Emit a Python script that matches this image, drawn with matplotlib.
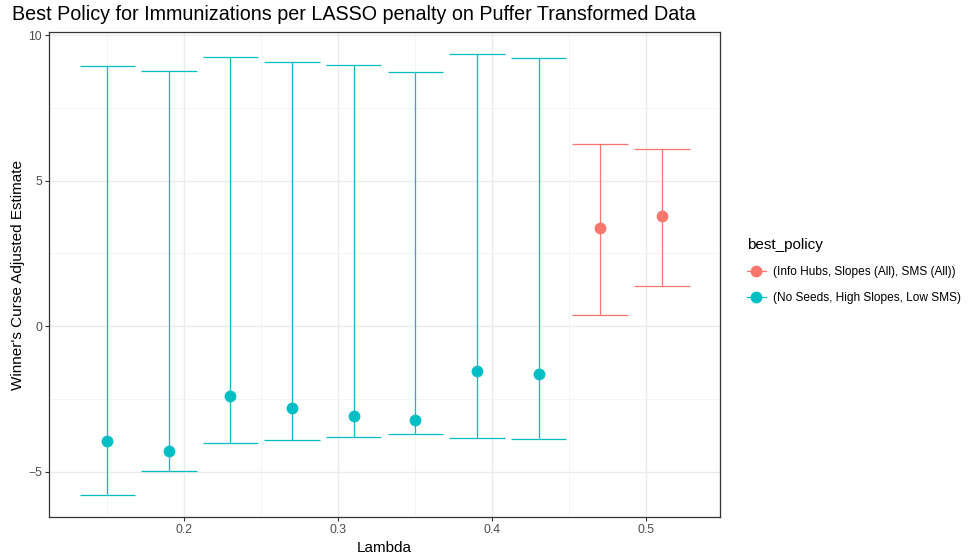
import matplotlib.pyplot as plt
from matplotlib.lines import Line2D
from matplotlib.ticker import MultipleLocator

plt.rcParams['font.family'] = ['Liberation Sans', 'DejaVu Sans']

# values
lam = [0.15, 0.19, 0.23, 0.27, 0.31, 0.35, 0.39, 0.43, 0.47, 0.51]
est = [-3.94, -4.28, -2.39, -2.80, -3.08, -3.22, -1.53, -1.66, 3.39, 3.77]
lower = [-5.81, -4.98, -4.02, -3.92, -3.81, -3.71, -3.85, -3.88, 0.39, 1.38]
upper = [8.95, 8.78, 9.26, 9.09, 8.98, 8.74, 9.36, 9.22, 6.26, 6.09]
policy = ['B', 'B', 'B', 'B', 'B', 'B', 'B', 'B', 'A', 'A']
policy_labels = {'A': '(Info Hubs, Slopes (All), SMS (All))',
                 'B': '(No Seeds, High Slopes, Low SMS)'}
colors = {'A': '#F8766D', 'B': '#00BFC4'}

W, H = 969, 558
fig = plt.figure(figsize=(W / 100, H / 100), dpi=100)
ax = fig.add_axes([49 / W, (H - 517) / H, (720 - 49) / W, (517 - 32) / H])

cap = 0.036
for x, y, lo, hi, p in zip(lam, est, lower, upper, policy):
    c = colors[p]
    ax.vlines(x, lo, hi, color=c, lw=0.9, zorder=3)
    ax.hlines([lo, hi], x - cap / 2, x + cap / 2, color=c, lw=0.9, zorder=3)
    ax.plot(x, y, 'o', color=c, ms=8.5, mec='none', zorder=4)

ax.set_xlim(0.1122, 0.5478)
ax.set_ylim(-6.56, 10.11)
ax.xaxis.set_major_locator(MultipleLocator(0.1))
ax.xaxis.set_minor_locator(MultipleLocator(0.05))
ax.yaxis.set_major_locator(MultipleLocator(5))
ax.yaxis.set_minor_locator(MultipleLocator(2.5))
ax.set_xticks([0.2, 0.3, 0.4, 0.5])
ax.set_xticklabels(['0.2', '0.3', '0.4', '0.5'])
ax.grid(which='major', color='#EBEBEB', lw=1.0, zorder=0)
ax.grid(which='minor', color='#F2F2F2', lw=0.6, zorder=0)
ax.set_axisbelow(True)
ax.tick_params(which='major', length=3, width=0.8, color='#333333',
               labelsize=8.8, labelcolor='#4D4D4D', pad=2)
ax.tick_params(which='minor', length=0)
for s in ax.spines.values():
    s.set_color('#333333')
    s.set_linewidth(0.9)

ax.set_xlabel('Lambda', fontsize=11, labelpad=4)
ax.set_ylabel("Winner's Curse Adjusted Estimate", fontsize=11, labelpad=2)
fig.text(12 / W, 1 - 15 / H,
         'Best Policy for Immunizations per LASSO penalty on Puffer Transformed Data',
         fontsize=14.2, va='center', ha='left')

handles = [Line2D([], [], color=colors[k], marker='o', ms=8.5, mec='none', lw=0.9)
           for k in ['A', 'B']]
leg = fig.legend(handles, [policy_labels['A'], policy_labels['B']],
                 title='best_policy', loc='center left',
                 bbox_to_anchor=(736 / W, 1 - 271 / H), frameon=False,
                 fontsize=8.6, title_fontsize=11, handlelength=1.6,
                 handletextpad=0.6, labelspacing=1.15)
leg._legend_box.align = 'left'

fig.savefig('out.png', dpi=100)
